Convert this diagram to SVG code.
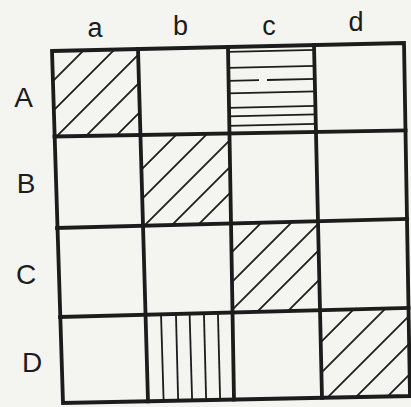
<svg xmlns="http://www.w3.org/2000/svg" width="411" height="407" viewBox="0 0 411 407">
<style>
.lbl{font-family:"Liberation Sans",Arial,sans-serif;fill:#1c1c1c;text-anchor:middle}
.lc{font-size:27px}
.uc{font-size:28px}
.grid{fill:none;stroke:#1c1c1c;stroke-width:3.8;stroke-linecap:square;stroke-linejoin:miter}
.hatch{stroke:#1c1c1c;stroke-width:1.8;fill:none}
</style>
<defs>
<clipPath id="cAa"><polygon points="52,51 138,49 140.4,135 54.7,136.5"/></clipPath>
<clipPath id="cBb"><polygon points="140.4,135 229.5,133.5 231,223.5 143,225.8"/></clipPath>
<clipPath id="cCc"><polygon points="231,223.5 318,221.3 320,310.3 232.5,312.5"/></clipPath>
<clipPath id="cDd"><polygon points="320,310.3 408.5,308 410,396 322,397.8"/></clipPath>
<clipPath id="cAc"><polygon points="228,47 314,45 316,132 229.5,133.5"/></clipPath>
<clipPath id="cDb"><polygon points="145.5,314.8 232.5,312.5 234,399.5 148,401.3"/></clipPath>
</defs>
<rect x="0" y="0" width="411" height="407" fill="#f4f4f1"/>

<g id="col-labels">
<text class="lbl lc" x="95" y="36.5">a</text>
<text class="lbl lc" x="180.5" y="35">b</text>
<text class="lbl lc" x="269" y="35">c</text>
<text class="lbl lc" x="356" y="30.5">d</text>
</g>
<g id="row-labels">
<text class="lbl uc" x="23.5" y="107">A</text>
<text class="lbl uc" x="26" y="193">B</text>
<text class="lbl uc" x="26" y="283.5">C</text>
<text class="lbl uc" x="32" y="371.5">D</text>
</g>

<g id="cell-Aa" clip-path="url(#cAa)">
<line class="hatch" x1="94" y1="40" x2="-11" y2="145"/>
<line class="hatch" x1="124" y1="40" x2="19" y2="145"/>
<line class="hatch" x1="153" y1="40" x2="48" y2="145"/>
<line class="hatch" x1="182" y1="40" x2="77" y2="145"/>
<line class="hatch" x1="212" y1="40" x2="107" y2="145"/>
</g>
<g id="cell-Bb" clip-path="url(#cBb)">
<line class="hatch" x1="186" y1="125" x2="76" y2="235"/>
<line class="hatch" x1="216" y1="125" x2="106" y2="235"/>
<line class="hatch" x1="245" y1="125" x2="135" y2="235"/>
<line class="hatch" x1="272" y1="125" x2="162" y2="235"/>
<line class="hatch" x1="298" y1="125" x2="188" y2="235"/>
</g>
<g id="cell-Cc" clip-path="url(#cCc)">
<line class="hatch" x1="272" y1="212" x2="162" y2="322"/>
<line class="hatch" x1="302" y1="212" x2="192" y2="322"/>
<line class="hatch" x1="330" y1="212" x2="220" y2="322"/>
<line class="hatch" x1="357" y1="212" x2="247" y2="322"/>
<line class="hatch" x1="387" y1="212" x2="277" y2="322"/>
</g>
<g id="cell-Dd" clip-path="url(#cDd)">
<line class="hatch" x1="365" y1="298" x2="255" y2="408"/>
<line class="hatch" x1="396" y1="298" x2="286" y2="408"/>
<line class="hatch" x1="427" y1="298" x2="317" y2="408"/>
<line class="hatch" x1="455" y1="298" x2="345" y2="408"/>
<line class="hatch" x1="486" y1="298" x2="376" y2="408"/>
</g>
<g id="cell-Ac" clip-path="url(#cAc)">
<line class="hatch" x1="222" y1="52" x2="320" y2="49.8"/>
<line class="hatch" x1="222" y1="68" x2="320" y2="65.8"/>
<line class="hatch" x1="222" y1="81" x2="259" y2="80.2"/>
<line class="hatch" x1="267" y1="80" x2="320" y2="78.8"/>
<line class="hatch" x1="222" y1="93.5" x2="320" y2="91.3"/>
<line class="hatch" x1="222" y1="108" x2="320" y2="105.8"/>
<line class="hatch" x1="222" y1="116.5" x2="320" y2="114.3"/>
<line class="hatch" x1="222" y1="126" x2="320" y2="123.8"/>
</g>
<g id="cell-Db" clip-path="url(#cDb)">
<line class="hatch" x1="160.6" y1="300" x2="163.9" y2="410"/>
<line class="hatch" x1="175.6" y1="300" x2="178.4" y2="410"/>
<line class="hatch" x1="189.2" y1="300" x2="192.4" y2="410"/>
<line class="hatch" x1="203.6" y1="300" x2="206.4" y2="410"/>
<line class="hatch" x1="217.6" y1="300" x2="220.4" y2="410"/>
</g>

<g id="grid">
<polygon class="grid" points="52,51 404,43 410,396 63,403"/>
<line class="grid" x1="54.5" y1="136.5" x2="405.5" y2="130.5"/>
<line class="grid" x1="57" y1="228" x2="407" y2="219"/>
<line class="grid" x1="60" y1="317" x2="408.5" y2="308"/>
<line class="grid" x1="138" y1="49" x2="148" y2="401.3"/>
<line class="grid" x1="228" y1="47" x2="234" y2="399.5"/>
<line class="grid" x1="314" y1="45" x2="322" y2="397.8"/>
</g>
</svg>
